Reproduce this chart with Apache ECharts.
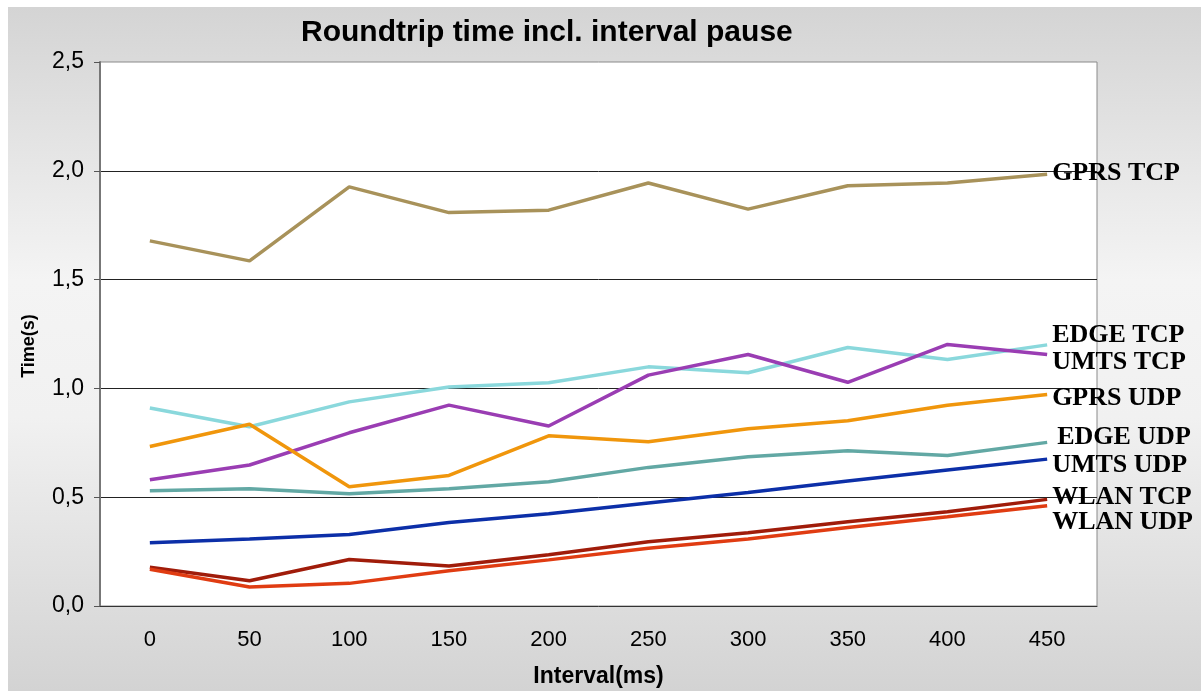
<!DOCTYPE html>
<html>
<head>
    <meta charset="utf-8">
    <script src="https://cdn.jsdelivr.net/npm/echarts@6.0.0/dist/echarts.min.js"></script>
    <style>
        html, body {
            margin: 0;
            padding: 0;
            background: #fff;
        }
    </style>
</head>
<body>
    <div id="main" style="width: 1201px;height: 691px;"></div>

    <script>
        // x categories (ms)
        var intervals = ['0', '50', '100', '150', '200', '250', '300', '350', '400', '450'];
        var yTicks = [0, 0.5, 1.0, 1.5, 2.0, 2.5];

        // values, seconds
        var gprsTcp = [1.678, 1.586, 1.926, 1.808, 1.819, 1.944, 1.824, 1.931, 1.944, 1.984];
        var edgeTcp = [0.910, 0.824, 0.938, 1.006, 1.026, 1.099, 1.072, 1.188, 1.133, 1.200];
        var umtsTcp = [0.580, 0.648, 0.796, 0.923, 0.827, 1.061, 1.156, 1.028, 1.202, 1.156];
        var gprsUdp = [0.733, 0.835, 0.548, 0.600, 0.782, 0.755, 0.815, 0.851, 0.923, 0.972];
        var edgeUdp = [0.530, 0.539, 0.516, 0.539, 0.571, 0.637, 0.686, 0.713, 0.692, 0.752];
        var umtsUdp = [0.291, 0.308, 0.329, 0.384, 0.424, 0.473, 0.522, 0.574, 0.625, 0.675];
        var wlanTcp = [0.178, 0.116, 0.214, 0.184, 0.236, 0.295, 0.337, 0.387, 0.433, 0.490];
        var wlanUdp = [0.169, 0.087, 0.104, 0.162, 0.212, 0.265, 0.308, 0.361, 0.410, 0.461];

        var myChart = echarts.init(document.getElementById('main'));

        function line(name, data, color, off) {
            return {
                name: name,
                type: 'line',
                data: data,
                symbol: 'none',
                lineStyle: { color: color, width: 3.5 },
                endLabel: {
                    show: true,
                    formatter: '{a}',
                    distance: 5,
                    offset: off,
                    color: '#000',
                    fontFamily: 'Liberation Serif',
                    fontWeight: 'bold',
                    fontSize: 26
                }
            };
        }

        var option = {
            animation: false,
            title: {
                text: 'Roundtrip time incl. interval pause',
                left: 296,
                top: 13,
                textStyle: {
                    fontFamily: 'Liberation Sans',
                    fontWeight: 'bold',
                    fontSize: 30,
                    color: '#000'
                }
            },
            graphic: [{
                type: 'rect',
                z: -10,
                shape: { x: 8, y: 7, width: 1193, height: 684 },
                style: {
                    fill: new echarts.graphic.LinearGradient(0, 0, 0, 1, [
                        { offset: 0, color: '#d4d4d4' },
                        { offset: 0.4, color: '#f4f4f4' },
                        { offset: 0.6, color: '#f1f1f1' },
                        { offset: 1, color: '#d3d3d3' }
                    ])
                }
            }],
            grid: {
                left: 100,
                right: 104,
                top: 62,
                bottom: 85,
                outerBoundsMode: 'none',
                show: true,
                backgroundColor: '#fff',
                borderColor: '#8a8a8a',
                borderWidth: 1
            },
            xAxis: {
                type: 'category',
                data: intervals,
                boundaryGap: true,
                name: 'Interval(ms)',
                nameLocation: 'middle',
                nameGap: 59,
                nameTextStyle: {
                    fontFamily: 'Liberation Sans',
                    fontWeight: 'bold',
                    fontSize: 23,
                    color: '#000'
                },
                axisLine: { lineStyle: { color: '#333', width: 1 } },
                axisTick: { length: 6, lineStyle: { color: '#555' } },
                axisLabel: {
                    margin: 23,
                    fontFamily: 'Liberation Sans',
                    fontSize: 22,
                    color: '#000'
                },
                splitLine: { show: false }
            },
            yAxis: {
                type: 'value',
                min: yTicks[0],
                max: yTicks[yTicks.length - 1],
                interval: 0.5,
                name: 'Time(s)',
                nameLocation: 'middle',
                nameGap: 62,
                nameTextStyle: {
                    fontFamily: 'Liberation Sans',
                    fontWeight: 'bold',
                    fontSize: 18,
                    color: '#000',
                    padding: [0, 24, 0, 0]
                },
                axisLine: { show: true, lineStyle: { color: '#777', width: 2 } },
                axisTick: { show: true, length: 6, lineStyle: { color: '#555' } },
                axisLabel: {
                    margin: 16,
                    fontFamily: 'Liberation Sans',
                    fontSize: 23,
                    color: '#000',
                    formatter: function(v) {
                        return v.toFixed(1).replace('.', ',');
                    }
                },
                splitLine: {
                    show: true,
                    showMinLine: false,
                    showMaxLine: false,
                    lineStyle: { color: '#222', width: 1 }
                }
            },
            series: [
                line('GPRS TCP', gprsTcp, '#a8925a', [0, -1]),
                line('EDGE TCP', edgeTcp, '#8ad8dc', [0, -10]),
                line('UMTS TCP', umtsTcp, '#9a3db3', [0, 8]),
                line('GPRS UDP', gprsUdp, '#f0960c', [0, 4]),
                line('EDGE UDP', edgeUdp, '#62a8a4', [5, -5]),
                line('UMTS UDP', umtsUdp, '#0c2fa8', [0, 6]),
                line('WLAN TCP', wlanTcp, '#a01c0a', [0, -2]),
                line('WLAN UDP', wlanUdp, '#e03c12', [0, 17])
            ]
        };

        myChart.setOption(option);
    </script>
</body>
</html>
